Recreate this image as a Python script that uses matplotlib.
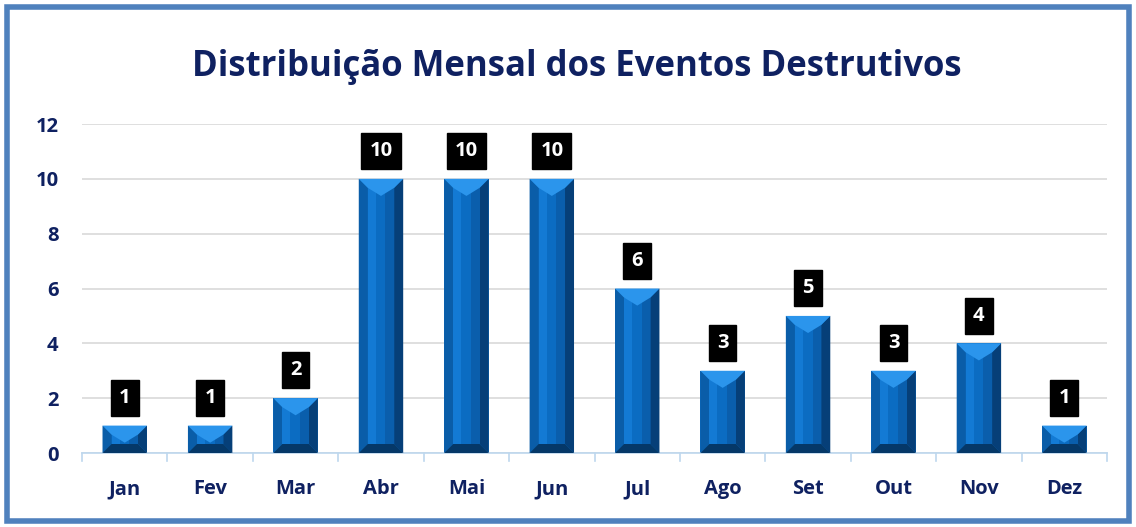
import matplotlib
matplotlib.use("Agg")
import matplotlib.pyplot as plt
from matplotlib.patches import Polygon, Rectangle

meses = ["Jan", "Fev", "Mar", "Abr", "Mai", "Jun", "Jul", "Ago", "Set", "Out", "Nov", "Dez"]
eventos = [1, 1, 2, 10, 10, 10, 6, 3, 5, 3, 4, 1]
y_ticks = [0, 2, 4, 6, 8, 10, 12]

NAVY = "#0f2161"
plt.rcParams["font.family"] = ["Open Sans", "DejaVu Sans"]

fig = plt.figure(figsize=(11.36, 5.27), dpi=100)
fig.patch.set_facecolor("white")

# moldura azul em volta do gráfico
fig.patches.append(Rectangle((0.006, 0.012), 0.988, 0.975, transform=fig.transFigure,
                             fill=False, edgecolor="#4f81bd", linewidth=4))

ax = fig.add_axes([0.0722, 0.1404, 0.9023, 0.6243])
x = list(range(len(meses)))
width = 0.52
bars = ax.bar(x, eventos, width=width, color="#0b6cc2", zorder=2)

ax.set_xlim(-0.5, len(meses) - 0.5)
ax.set_ylim(0, 12)
ax.set_yticks(y_ticks)
ax.set_xticks(x)
ax.set_xticklabels(meses)
ax.grid(axis="y", color="#d9d9d9", linewidth=1.2, zorder=0)
for s in ["top", "right", "left"]:
    ax.spines[s].set_visible(False)
ax.spines["bottom"].set_color("#bdd7ee")
ax.spines["bottom"].set_linewidth(1.2)
ax.tick_params(axis="y", length=0, pad=17, labelsize=14.5, labelcolor=NAVY)
ax.tick_params(axis="x", length=0, pad=19, labelsize=14.5, labelcolor=NAVY)
for lab in ax.get_xticklabels() + ax.get_yticklabels():
    lab.set_fontweight("bold")

# marcas entre categorias no eixo x
for b in [i - 0.5 for i in range(len(meses) + 1)]:
    ax.plot([b, b], [0, -0.3], color="#bdd7ee", linewidth=1.2, clip_on=False, zorder=1)

# efeito de bisel nas barras (tamanho em pixels convertido para dados)
px_x = (len(meses)) / (0.9023 * 1136)
px_y = 12 / (0.6243 * 527)
for rect in bars:
    x0 = rect.get_x()
    x1 = x0 + rect.get_width()
    y0 = 0
    y1 = rect.get_height()
    dx = 9 * px_x
    dy = min(9 * px_y, y1 / 2.2)
    xm = (x0 + x1) / 2
    # faixas verticais (gradiente)
    ax.add_patch(Polygon([(x0, y0), (x0 + dx, y0 + dy), (x0 + dx, y1 - dy), (x0, y1)],
                         closed=True, color="#0a5da8", zorder=3, lw=0))
    ax.add_patch(Polygon([(x1, y0), (x1 - dx, y0 + dy), (x1 - dx, y1 - dy), (x1, y1)],
                         closed=True, color="#063f78", zorder=3, lw=0))
    ax.add_patch(Rectangle((x0 + dx, y0 + dy), (x1 - x0) * 0.18, y1 - 2 * dy,
                           color="#137ad4", zorder=3, lw=0))
    ax.add_patch(Rectangle((xm + (x1 - x0) * 0.1, y0 + dy), x1 - dx - xm - (x1 - x0) * 0.1,
                           y1 - 2 * dy, color="#0a5eac", zorder=3, lw=0))
    # topo claro em V
    ax.add_patch(Polygon([(x0, y1), (x1, y1), (x1 - dx, y1 - dy), (xm, y1 - 1.9 * dy),
                          (x0 + dx, y1 - dy)], closed=True, color="#2b95ec", zorder=4, lw=0))
    # base escura
    ax.add_patch(Polygon([(x0, y0), (x1, y0), (x1 - dx, y0 + dy), (x0 + dx, y0 + dy)],
                         closed=True, color="#053868", zorder=4, lw=0))

# rótulos de valor em caixas pretas
for xi, v in zip(x, eventos):
    ax.annotate(str(v), (xi, v), xytext=(0, 20), textcoords="offset points",
                ha="center", va="center", color="white", fontsize=14.5, fontweight="bold",
                bbox=dict(boxstyle="square,pad=0.4", facecolor="black", edgecolor="black"),
                zorder=6, annotation_clip=False)

fig.text(0.508, 0.872, "Distribuição Mensal dos Eventos Destrutivos", ha="center", va="center",
         fontsize=25, fontweight="bold", color=NAVY)

fig.savefig("out.png", dpi=100)
